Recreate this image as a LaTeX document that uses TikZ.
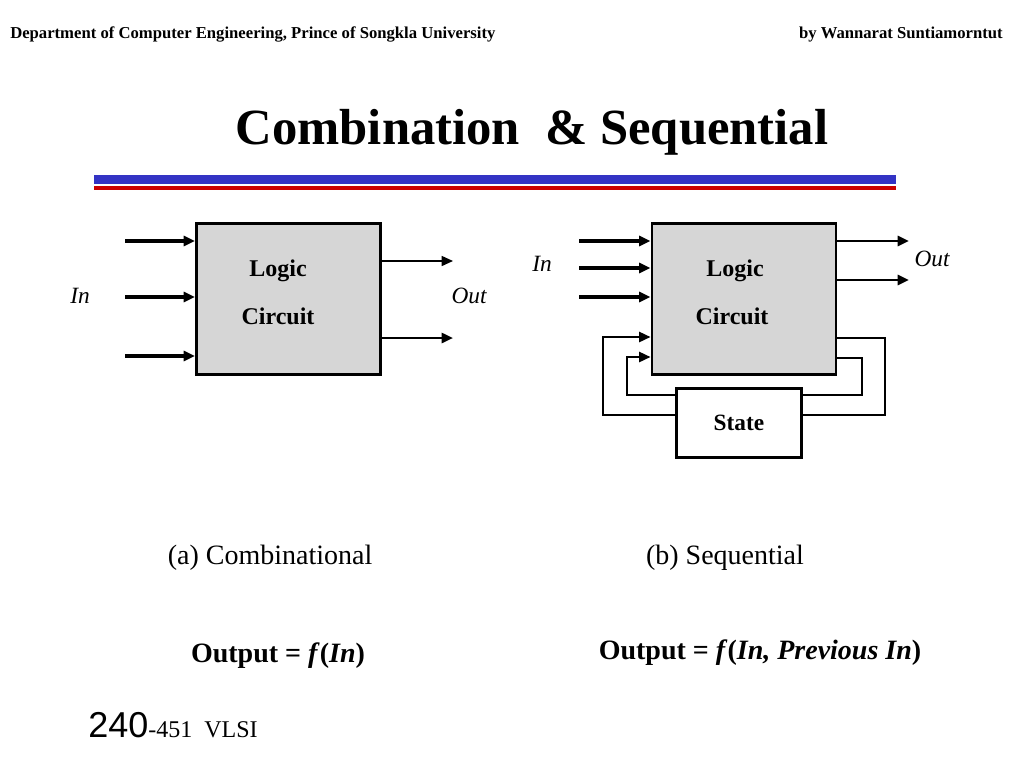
\documentclass[tikz,border=0pt]{standalone}
\usepackage{fontspec}
\setmainfont{Liberation Serif}
\newfontfamily\arialfont{Liberation Sans}
\usetikzlibrary{positioning,arrows.meta,calc}
\definecolor{BarBlue}{RGB}{51,51,196}
\definecolor{BarRed}{RGB}{204,0,0}
\definecolor{BoxFill}{RGB}{214,214,214}

\begin{document}
\begin{tikzpicture}[x=0.75pt, y=-0.75pt,
    logicbox/.style={rectangle, draw=black, line width=2.2pt, fill=BoxFill,
                     minimum width=138pt, minimum height=113pt, inner sep=0pt},
    statebox/.style={rectangle, draw=black, line width=2.2pt, fill=white,
                     minimum width=94pt, minimum height=52pt, inner sep=0pt,
                     font=\fontsize{17.5}{20}\selectfont\bfseries},
    boxtext/.style={font=\fontsize{18}{20}\selectfont\bfseries},
    siglabel/.style={font=\fontsize{17.5}{20}\selectfont\itshape},
    caption/.style={font=\fontsize{21}{24}\selectfont},
    formula/.style={font=\fontsize{21}{24}\selectfont\bfseries},
    header/.style={font=\fontsize{12.5}{14}\selectfont\bfseries, inner sep=0pt},
    wire/.style={line width=2.3pt, -{Triangle[length=8.5pt,width=7.5pt]}},
    thinwire/.style={line width=1.1pt, -{Triangle[length=8.5pt,width=7.5pt]}},
    loopwire/.style={line width=1.7pt}
]
    \useasboundingbox (0,0) rectangle (1024,768);

    % header and title
    \node[header, anchor=base west] (dept) at (10,38) {Department of Computer Engineering, Prince of Songkla University};
    \node[header, anchor=base east] (auth) at (1003,38) {by Wannarat Suntiamorntut};
    \node[font=\fontsize{38}{40}\selectfont\bfseries] (title) at (532,132) {Combination~~\& Sequential};
    \fill[BarBlue] (94,175) rectangle (896,184);
    \fill[BarRed] (94,185.5) rectangle (896,189.5);

    % (a) combinational
    \node[logicbox] (lc) at (288.5,299) {};
    \node[boxtext] (lclogic) at (278,271) {Logic};
    \node[boxtext] (lccirc) at (278,316) {Circuit};
    \foreach \yy [count=\i] in {241,297,356} {
        \coordinate (ai\i) at (125,\yy);
        \draw[wire] (ai\i) -- (ai\i -| lc.west);
    }
    \coordinate (ao1) at (453,261);
    \coordinate (ao2) at (453,338);
    \draw[thinwire] (ao1 -| lc.east) -- (ao1);
    \draw[wire, line width=1.9pt] (ao2 -| lc.east) -- (ao2);
    \node[siglabel] (lin) at (80,296) {In};
    \node[siglabel] (lout) at (469,296) {Out};

    % (b) sequential
    \node[logicbox] (rc) at (744,299) {};
    \node[boxtext] (rclogic) at (735,271) {Logic};
    \node[boxtext] (rccirc) at (732,316) {Circuit};
    \node[statebox] (st) at (739,423) {State};
    \foreach \yy [count=\i] in {241,268,297} {
        \coordinate (bi\i) at (579,\yy);
        \draw[wire] (bi\i) -- (bi\i -| rc.west);
    }
    \foreach \yy [count=\i] in {241,280} {
        \coordinate (bo\i) at (909,\yy);
        \draw[wire, line width=2.1pt] (bo\i -| rc.east) -- (bo\i);
    }
    \node[siglabel] (rin) at (542,264) {In};
    \node[siglabel] (rout) at (932,259) {Out};

    % feedback loops through the state
    \coordinate (fb1) at (603,337);
    \coordinate (fb2) at (627,357);
    \coordinate (fb3) at (885,338);
    \coordinate (fb4) at (862,358);
    \draw[loopwire, -{Triangle[length=8.5pt,width=7.5pt]}] ([yshift=6pt]st.west) -| (fb1) -- (fb1 -| rc.west);
    \draw[loopwire, -{Triangle[length=8.5pt,width=7.5pt]}] ([yshift=21pt]st.west) -| (fb2) -- (fb2 -| rc.west);
    \draw[loopwire] (fb3 -| rc.east) -- (fb3) |- ([yshift=6pt]st.east);
    \draw[loopwire] (fb4 -| rc.east) -- (fb4) |- ([yshift=21pt]st.east);

    % captions
    \node[caption] (capa) at (270,558) {(a) Combinational};
    \node[caption] (capb) at (725,558) {(b) Sequential};
    \node[formula] (fa) at (278,656) {Output = \textit{f}(\textit{In})};
    \node[formula] (fb) at (760,653) {Output = \textit{f}(\textit{In, Previous In})};

    % footer
    \node[anchor=base west, inner sep=0pt] (foot) at (88,737)
        {{\arialfont\fontsize{27}{28}\selectfont 240}\fontsize{18}{20}\selectfont-451~~VLSI};
\end{tikzpicture}
\end{document}
